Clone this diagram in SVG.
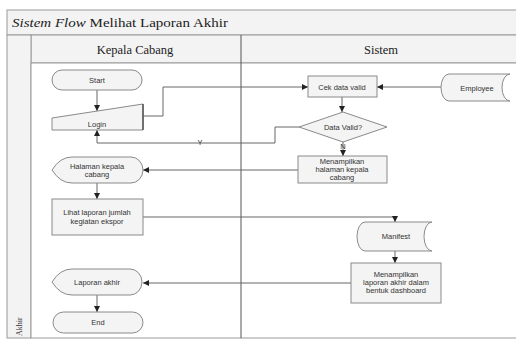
<svg xmlns="http://www.w3.org/2000/svg" width="516" height="343" viewBox="0 0 516 343">
<style>
.frame{fill:#f3f3f3;stroke:#9a9a9a;stroke-width:1}
.node{fill:#f4f4f4;stroke:#8a8a8a;stroke-width:1}
.lbl{font-family:"Liberation Sans",Arial,sans-serif;font-size:7.5px;fill:#333;text-anchor:middle}
.hdr{font-family:"Liberation Serif","Times New Roman",serif;font-size:12.5px;fill:#222;text-anchor:middle}
.conn{fill:none;stroke:#666;stroke-width:1}
</style>
<defs>
<marker id="arr" viewBox="0 0 6 6" refX="6" refY="3" markerWidth="6" markerHeight="6" orient="auto" markerUnits="userSpaceOnUse">
<path d="M0,0 L6,3 L0,6 Z" fill="#222"/>
</marker>
</defs>
<rect x="0" y="0" width="516" height="343" fill="#ffffff"/>
<g id="frame">
<rect class="frame" x="7" y="10" width="520" height="25"/>
<rect class="frame" x="31" y="35" width="496" height="28"/>
<rect class="frame" x="7" y="35" width="24" height="303"/>
<rect x="31" y="63" width="496" height="275" fill="#ffffff" stroke="#9a9a9a" stroke-width="1"/>
<text x="12" y="27" font-family="'Liberation Serif','Times New Roman',serif" font-size="12.5" fill="#222" textLength="216" lengthAdjust="spacingAndGlyphs"><tspan font-style="italic">Sistem Flow</tspan> Melihat Laporan Akhir</text>
<text class="hdr" x="135" y="54">Kepala Cabang</text>
<text class="hdr" x="381" y="54">Sistem</text>
<text x="22" y="336" transform="rotate(-90 22 336)" font-family="'Liberation Serif','Times New Roman',serif" font-size="8" fill="#333">Akhir</text>
<line x1="241" y1="35" x2="241" y2="338" stroke="#555" stroke-width="1"/>
</g>
<g id="connectors">
<path class="conn" d="M97,90 V111" marker-end="url(#arr)"/>
<path class="conn" d="M143,116 H163 V87 H308" marker-end="url(#arr)"/>
<path class="conn" d="M441,87 H377" marker-end="url(#arr)"/>
<path class="conn" d="M342,97 V112" marker-end="url(#arr)"/>
<path class="conn" d="M299,127 H275 V143 H97 V130" marker-end="url(#arr)"/>
<text class="lbl" x="200" y="145" font-size="5">Y</text>
<path class="conn" d="M343,142 V156" marker-end="url(#arr)"/>
<text class="lbl" x="343" y="149" font-size="5">N</text>
<path class="conn" d="M298,170 H143" marker-end="url(#arr)"/>
<path class="conn" d="M97,183 V199" marker-end="url(#arr)"/>
<path class="conn" d="M143,217 H395 V222" marker-end="url(#arr)"/>
<path class="conn" d="M395,251 V263" marker-end="url(#arr)"/>
<path class="conn" d="M351,283 H143" marker-end="url(#arr)"/>
<path class="conn" d="M97,295 V312" marker-end="url(#arr)"/>
</g>
<g id="start">
<rect class="node" x="52" y="70" width="90" height="20" rx="10" ry="10"/>
<text class="lbl" x="97" y="83">Start</text>
</g>
<g id="login">
<polygon class="node" points="52,118 143,104 143,130 52,130"/>
<line x1="143" y1="104" x2="143" y2="130" stroke="#555" stroke-width="1.5"/>
<text class="lbl" x="97" y="127">Login</text>
</g>
<g id="cek">
<rect class="node" x="308" y="76" width="69" height="21"/>
<text class="lbl" x="342" y="89.5">Cek data valid</text>
</g>
<g id="employee">
<path class="node" d="M449,74 H510 A8 13.5 0 0 0 510,101 H449 A8 13.5 0 0 1 449,74 Z"/>
<text class="lbl" x="477" y="90.5">Employee</text>
</g>
<g id="valid">
<polygon class="node" points="343,112 387,127 343,142 299,127"/>
<text class="lbl" x="343" y="129.5">Data Valid?</text>
</g>
<g id="tampil-halaman">
<rect class="node" x="298" y="156" width="89" height="27"/>
<text class="lbl" x="342" y="164">Menampilkan</text>
<text class="lbl" x="342" y="172">halaman kepala</text>
<text class="lbl" x="342" y="180">cabang</text>
</g>
<g id="halaman">
<path class="node" d="M52,170 Q60,157 72,157 H131 A12 13 0 0 1 131,183 H72 Q60,183 52,170 Z"/>
<text class="lbl" x="97" y="168.5">Halaman kepala</text>
<text class="lbl" x="97" y="177">cabang</text>
</g>
<g id="lihat">
<rect class="node" x="52" y="199" width="91" height="36"/>
<text class="lbl" x="97" y="215">Lihat laporan jumlah</text>
<text class="lbl" x="97" y="224">kegiatan ekspor</text>
</g>
<g id="manifest">
<path class="node" d="M365,222 H432 A8 14.5 0 0 0 432,251 H365 A8 14.5 0 0 1 365,222 Z"/>
<text class="lbl" x="396" y="239">Manifest</text>
</g>
<g id="tampil-laporan">
<rect class="node" x="351" y="263" width="90" height="40"/>
<text class="lbl" x="396" y="277">Menampilkan</text>
<text class="lbl" x="396" y="285">laporan akhir dalam</text>
<text class="lbl" x="396" y="293">bentuk dashboard</text>
</g>
<g id="laporan">
<path class="node" d="M52,282 Q60,269 72,269 H130 A12 13 0 0 1 130,295 H72 Q60,295 52,282 Z"/>
<text class="lbl" x="97" y="284.5">Laporan akhir</text>
</g>
<g id="end">
<rect class="node" x="53" y="312" width="90" height="21" rx="10.5" ry="10.5"/>
<text class="lbl" x="98" y="325">End</text>
</g>
</svg>
